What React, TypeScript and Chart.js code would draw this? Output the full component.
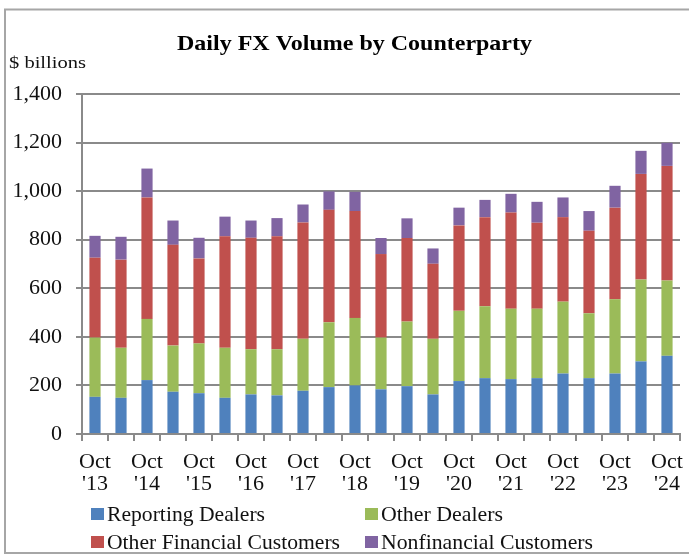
import React, { useEffect, useRef } from "react";
import { Chart, registerables } from "chart.js";

Chart.register(...registerables);

const periods = [
  "Oct '13", "Apr '14", "Oct '14", "Apr '15", "Oct '15", "Apr '16", "Oct '16", "Apr '17",
  "Oct '17", "Apr '18", "Oct '18", "Apr '19", "Oct '19", "Apr '20", "Oct '20", "Apr '21",
  "Oct '21", "Apr '22", "Oct '22", "Apr '23", "Oct '23", "Apr '24", "Oct '24",
];

const reportingDealers = [153, 149, 222, 174, 168, 149, 163, 159, 178, 193, 200, 184, 197, 163, 218, 230, 226, 230, 249, 230, 249, 299, 322];
const otherDealers = [244, 206, 252, 190, 205, 206, 186, 190, 214, 267, 278, 213, 266, 229, 289, 296, 290, 286, 296, 267, 306, 337, 310];
const otherFinancial = [329, 363, 500, 415, 350, 459, 459, 465, 479, 463, 440, 344, 344, 309, 352, 367, 396, 354, 348, 340, 377, 435, 472];
const nonfinancial = [90, 94, 119, 100, 85, 81, 71, 75, 74, 76, 79, 66, 81, 63, 73, 71, 77, 86, 81, 81, 90, 95, 95];

const seriesNames = ["Reporting Dealers", "Other Dealers", "Other Financial Customers", "Nonfinancial Customers"];
const seriesColors = ["#4F81BD", "#9BBB59", "#C0504D", "#8064A2"];

const chartTitle = "Daily FX Volume by Counterparty";
const unitLabel = "$ billions";

const SERIF = "'Liberation Serif', 'Times New Roman', serif";
const GRID = "#8a8a8a";

function fitText(ctx: CanvasRenderingContext2D, text: string, x: number, baseline: number, width: number, font: string, color: string) {
  ctx.save();
  ctx.font = font;
  const w = ctx.measureText(text).width;
  ctx.translate(x, baseline);
  ctx.scale(width / w, 1);
  ctx.textAlign = "left";
  ctx.textBaseline = "alphabetic";
  ctx.fillStyle = color;
  ctx.fillText(text, 0, 0);
  ctx.restore();
}

const decor = {
  id: "decor",
  beforeDraw(chart: any) {
    const ctx = chart.ctx as CanvasRenderingContext2D;
    ctx.save();
    ctx.fillStyle = "#ffffff";
    ctx.fillRect(0, 0, chart.width, chart.height);
    ctx.strokeStyle = "#a6a6a6";
    ctx.lineWidth = 2;
    ctx.strokeRect(5, 9.5, 700, 543.5);
    ctx.restore();
  },
  afterDraw(chart: any) {
    const ctx = chart.ctx as CanvasRenderingContext2D;
    fitText(ctx, chartTitle, 177, 49.5, 355, `bold 21px ${SERIF}`, "#000");
    fitText(ctx, unitLabel, 9, 68, 77, `17px ${SERIF}`, "#111");
    const legend = [
      { sx: 91, tx: 107, base: 520.5, w: 158 },
      { sx: 365, tx: 381, base: 520.5, w: 122 },
      { sx: 91, tx: 107, base: 548.5, w: 233 },
      { sx: 365, tx: 381, base: 548.5, w: 212 },
    ];
    legend.forEach((l, i) => {
      ctx.save();
      ctx.fillStyle = seriesColors[i];
      ctx.fillRect(l.sx, l.base - 12.5, 13, 12);
      ctx.restore();
      fitText(ctx, seriesNames[i], l.tx, l.base, l.w, `21px ${SERIF}`, "#111");
    });
  },
};

export default function App() {
  const ref = useRef<HTMLCanvasElement | null>(null);
  useEffect(() => {
    if (!ref.current) return;
    const values = [reportingDealers, otherDealers, otherFinancial, nonfinancial];
    const chart = new Chart(ref.current, {
      type: "bar",
      data: {
        labels: periods,
        datasets: values.map((d, i) => ({
          label: seriesNames[i],
          data: d,
          backgroundColor: seriesColors[i],
          borderWidth: 0,
          barPercentage: 0.43,
          categoryPercentage: 1,
        })),
      },
      options: {
        animation: false,
        responsive: false,
        devicePixelRatio: 1,
        layout: { padding: { left: 0, right: 9, top: 94, bottom: 0 } },
        plugins: {
          legend: { display: false },
          title: { display: false },
          tooltip: { enabled: false },
        },
        scales: {
          x: {
            stacked: true,
            offset: true,
            afterFit: (s: any) => { s.height = 121; s.paddingLeft = 0; s.paddingRight = 0; },
            grid: { drawOnChartArea: false, drawTicks: true, tickLength: 7, color: GRID, lineWidth: 2, offset: true },
            border: { display: true, color: GRID, width: 2 },
            ticks: {
              autoSkip: false,
              maxRotation: 0,
              minRotation: 0,
              padding: 10,
              color: "#111",
              font: { family: SERIF, size: 22, lineHeight: 1.0 },
              callback: function (this: any, _v: any, i: number) {
                const p = periods[i];
                return p.startsWith("Oct") ? p.split(" ") : "";
              },
            },
          },
          y: {
            stacked: true,
            min: 0,
            max: 1400,
            afterFit: (s: any) => { s.width = 82; s.paddingTop = 0; s.paddingBottom = 0; },
            grid: { color: GRID, lineWidth: 2, drawTicks: true, tickLength: 6 },
            border: { display: true, color: GRID, width: 2 },
            ticks: {
              stepSize: 200,
              padding: 14,
              color: "#111",
              font: { family: SERIF, size: 22 },
              callback: (v: any) => Number(v).toLocaleString("en-US"),
            },
          },
        },
      },
      plugins: [decor],
    });
    return () => chart.destroy();
  }, []);
  return (
    <div style={{ position: "absolute", left: 0, top: 0, width: 689, height: 555, background: "#fff" }}>
      <canvas ref={ref} width={689} height={555} style={{ display: "block", width: 689, height: 555 }} />
    </div>
  );
}
